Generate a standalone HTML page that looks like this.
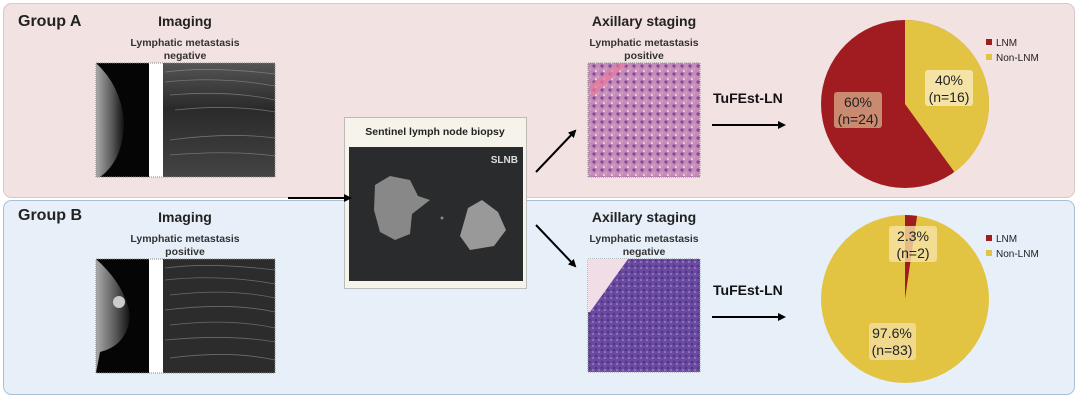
<!DOCTYPE html>
<html><head><meta charset="utf-8"><style>
body{margin:0;background:#fff;}
svg{display:block;font-family:"Liberation Sans",Arial,sans-serif;}
</style></head><body>
<svg width="1080" height="402" viewBox="0 0 1080 402" xmlns="http://www.w3.org/2000/svg">
<defs>
<linearGradient id="us" x1="0" y1="0" x2="0" y2="1"><stop offset="0" stop-color="#555"/><stop offset="0.4" stop-color="#2a2a2a"/><stop offset="1" stop-color="#444"/></linearGradient>
<linearGradient id="mam" x1="0" y1="0" x2="1" y2="0"><stop offset="0" stop-color="#aaa"/><stop offset="0.6" stop-color="#555"/><stop offset="1" stop-color="#111"/></linearGradient>
<pattern id="he1" width="8" height="8" patternUnits="userSpaceOnUse"><rect width="8" height="8" fill="#c58ab8"/><circle cx="2" cy="2" r="1.6" fill="#7a4c9e"/><circle cx="6" cy="5" r="1.4" fill="#d69ac4"/><circle cx="4" cy="7" r="1" fill="#f0e0ec"/></pattern>
<pattern id="he2" width="6" height="6" patternUnits="userSpaceOnUse"><rect width="6" height="6" fill="#6a49a0"/><circle cx="2" cy="2" r="1.2" fill="#4c3586"/><circle cx="5" cy="4" r="0.8" fill="#b9a4d6"/></pattern>
<marker id="ah" markerWidth="8" markerHeight="8" refX="6" refY="4" orient="auto" markerUnits="userSpaceOnUse"><path d="M0,0 L8,4 L0,8 z" fill="#000"/></marker>
</defs>
<rect x="3.5" y="3.5" width="1071" height="194" rx="8" fill="#f3e2e2" stroke="#d8c8c8"/>
<rect x="3.5" y="200.5" width="1071" height="194" rx="8" fill="#e7f0f9" stroke="#a9bfd6"/>

<!-- Group A -->
<text x="18" y="26" font-size="16" font-weight="bold" fill="#222">Group A</text>
<text x="185" y="26" font-size="14" font-weight="bold" fill="#222" text-anchor="middle">Imaging</text>
<text x="185" y="46" font-size="10.5" font-weight="bold" fill="#333" text-anchor="middle">Lymphatic metastasis</text>
<text x="185" y="59" font-size="10.5" font-weight="bold" fill="#333" text-anchor="middle">negative</text>
<rect x="96" y="63" width="53" height="114" fill="#050505"/>
<path d="M96,63 Q120,85 124,120 Q124,160 100,177 L96,177 z" fill="url(#mam)"/>
<rect x="149" y="63" width="14" height="114" fill="#fff"/>
<rect x="163" y="63" width="112" height="114" fill="url(#us)"/>
<g stroke="#999" stroke-width="0.8" fill="none" opacity="0.6"><path d="M165,72 Q210,66 275,74"/><path d="M165,82 Q220,76 275,86"/><path d="M170,95 Q230,90 275,100"/><path d="M175,110 Q230,104 275,112"/><path d="M170,140 Q230,132 275,138"/><path d="M170,155 Q230,150 275,156"/></g>
<rect x="96" y="63" width="179" height="114" fill="none" stroke="#888" stroke-dasharray="1,1"/>

<text x="713" y="103" font-size="14" font-weight="bold" fill="#111">TuFEst-LN</text>
<line x1="712" y1="125" x2="784" y2="125" stroke="#000" stroke-width="2" marker-end="url(#ah)"/>
<text x="644" y="26" font-size="14" font-weight="bold" fill="#222" text-anchor="middle">Axillary staging</text>
<text x="644" y="46" font-size="10.5" font-weight="bold" fill="#333" text-anchor="middle">Lymphatic metastasis</text>
<text x="644" y="59" font-size="10.5" font-weight="bold" fill="#333" text-anchor="middle">positive</text>
<rect x="588" y="63" width="112" height="114" fill="url(#he1)" stroke="#888" stroke-dasharray="1,1"/>
<path d="M590,85 L620,63 L628,63 L592,98 z" fill="#e87a9a" opacity="0.7"/>

<!-- Pie A -->
<circle cx="905" cy="104" r="84" fill="#a01c20"/>
<path d="M905,104 L905,20 A84,84 0 0,1 954.4,172 z" fill="#e3c442"/>
<rect x="834" y="92" width="48" height="36" rx="3" fill="#c98a6f"/>
<text x="858" y="107" font-size="14" fill="#222" text-anchor="middle">60%</text>
<text x="858" y="124" font-size="14" fill="#222" text-anchor="middle">(n=24)</text>
<rect x="925" y="70" width="48" height="36" rx="3" fill="#f5e3a6"/>
<text x="949" y="85" font-size="14" fill="#222" text-anchor="middle">40%</text>
<text x="949" y="102" font-size="14" fill="#222" text-anchor="middle">(n=16)</text>
<rect x="986" y="39" width="6" height="6" fill="#a01c20"/><text x="996" y="46" font-size="10" fill="#222">LNM</text>
<rect x="986" y="54" width="6" height="6" fill="#e3c442"/><text x="996" y="61" font-size="10" fill="#222">Non-LNM</text>

<!-- Group B -->
<text x="18" y="220" font-size="16" font-weight="bold" fill="#222">Group B</text>
<text x="185" y="222" font-size="14" font-weight="bold" fill="#222" text-anchor="middle">Imaging</text>
<text x="185" y="242" font-size="10.5" font-weight="bold" fill="#333" text-anchor="middle">Lymphatic metastasis</text>
<text x="185" y="255" font-size="10.5" font-weight="bold" fill="#333" text-anchor="middle">positive</text>
<rect x="96" y="259" width="53" height="114" fill="#050505"/>
<path d="M96,259 Q125,285 130,315 Q128,345 100,352 L96,373 z" fill="url(#mam)"/>
<circle cx="119" cy="302" r="6" fill="#ccc"/>
<rect x="149" y="259" width="14" height="114" fill="#fff"/>
<rect x="163" y="259" width="112" height="114" fill="#2c2c2c"/>
<g stroke="#888" stroke-width="0.8" fill="none" opacity="0.7"><path d="M165,268 Q210,262 275,270"/><path d="M165,280 Q220,274 275,284"/><path d="M170,295 Q230,288 275,298"/><path d="M165,310 Q230,302 275,312"/><path d="M170,325 Q230,318 275,328"/><path d="M165,340 Q230,334 275,342"/><path d="M170,358 Q230,350 275,360"/></g>
<rect x="96" y="259" width="179" height="114" fill="none" stroke="#888" stroke-dasharray="1,1"/>

<text x="713" y="295" font-size="14" font-weight="bold" fill="#111">TuFEst-LN</text>
<line x1="712" y1="317" x2="784" y2="317" stroke="#000" stroke-width="2" marker-end="url(#ah)"/>
<text x="644" y="222" font-size="14" font-weight="bold" fill="#222" text-anchor="middle">Axillary staging</text>
<text x="644" y="242" font-size="10.5" font-weight="bold" fill="#333" text-anchor="middle">Lymphatic metastasis</text>
<text x="644" y="255" font-size="10.5" font-weight="bold" fill="#333" text-anchor="middle">negative</text>
<rect x="588" y="259" width="112" height="113" fill="url(#he2)" stroke="#888" stroke-dasharray="1,1"/>
<path d="M588,259 L628,259 L590,312 L588,312 z" fill="#f1dde6"/>

<!-- Pie B -->
<circle cx="905" cy="299" r="84" fill="#e3c442"/>
<path d="M905,299 L905,215 A84,84 0 0,1 917.1,215.9 z" fill="#a01c20"/>
<rect x="889" y="226" width="48" height="36" rx="3" fill="#f5e3a6" opacity="0.8"/>
<text x="913" y="241" font-size="14" fill="#222" text-anchor="middle">2.3%</text>
<text x="913" y="258" font-size="14" fill="#222" text-anchor="middle">(n=2)</text>
<rect x="869" y="323" width="47" height="37" rx="3" fill="#f0d98c"/>
<text x="892" y="338" font-size="14" fill="#222" text-anchor="middle">97.6%</text>
<text x="892" y="355" font-size="14" fill="#222" text-anchor="middle">(n=83)</text>
<rect x="986" y="235" width="6" height="6" fill="#a01c20"/><text x="996" y="242" font-size="10" fill="#222">LNM</text>
<rect x="986" y="250" width="6" height="6" fill="#e3c442"/><text x="996" y="257" font-size="10" fill="#222">Non-LNM</text>

<!-- SLNB -->
<rect x="344.5" y="117.5" width="182" height="171" fill="#f6f3ea" stroke="#888" stroke-dasharray="1,1"/>
<text x="435" y="135" font-size="10.5" font-weight="bold" fill="#222" text-anchor="middle">Sentinel lymph node biopsy</text>
<rect x="349" y="147" width="174" height="134" fill="#2a2b2c"/>
<text x="518" y="163" font-size="10" font-weight="bold" fill="#ddd" text-anchor="end">SLNB</text>
<path d="M375,185 L390,176 L410,180 L418,196 L430,200 L412,214 L410,234 L395,240 L380,232 L374,210 z" fill="#888"/>
<path d="M468,208 L482,200 L498,212 L506,230 L494,246 L470,250 L460,236 z" fill="#999"/>
<circle cx="442" cy="218" r="1.5" fill="#888"/>

<!-- arrows -->
<line x1="288" y1="198" x2="350" y2="198" stroke="#000" stroke-width="2" marker-end="url(#ah)"/>
<line x1="536" y1="172" x2="575" y2="131" stroke="#000" stroke-width="2" marker-end="url(#ah)"/>
<line x1="536" y1="225" x2="575" y2="266" stroke="#000" stroke-width="2" marker-end="url(#ah)"/>
</svg>
</body></html>
